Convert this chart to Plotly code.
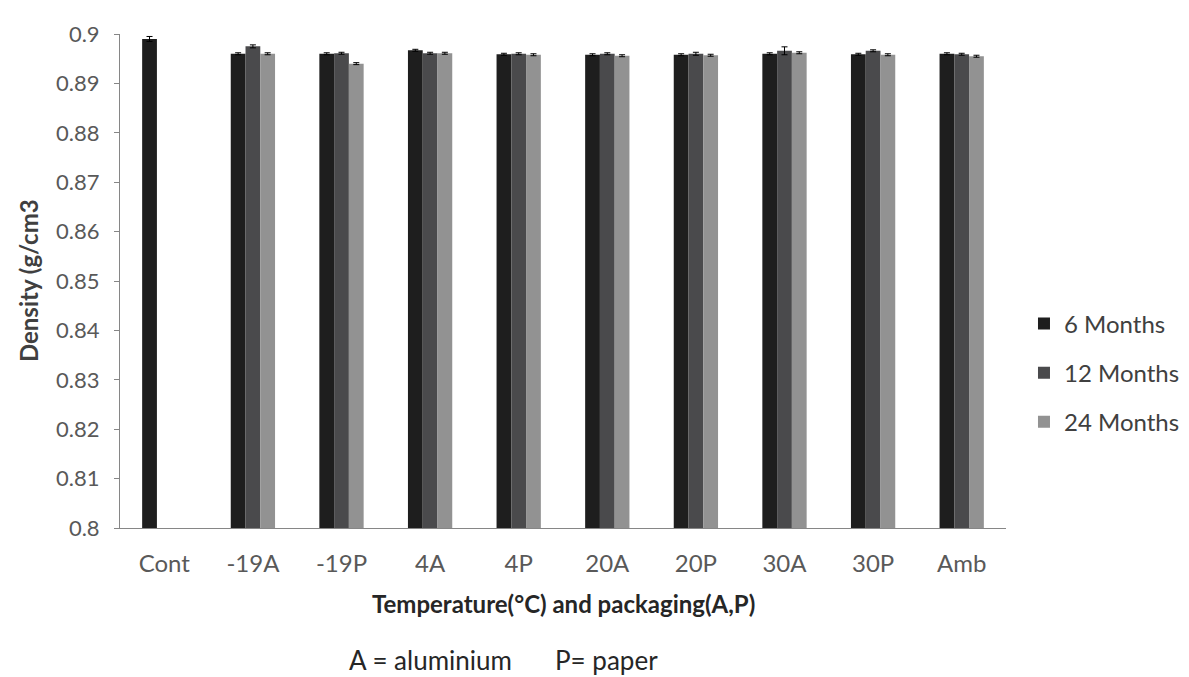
import plotly.graph_objects as go

categories = ["Cont", "-19A", "-19P", "4A", "4P", "20A", "20P", "30A", "30P", "Amb"]
months_6 = [0.8990, 0.8960, 0.8960, 0.8967, 0.8959, 0.8958, 0.8958, 0.8960, 0.8959, 0.8960]
months_12 = [None, 0.8975, 0.8961, 0.8961, 0.8960, 0.8960, 0.8960, 0.8966, 0.8966, 0.8959]
months_24 = [None, 0.8960, 0.8940, 0.8961, 0.8958, 0.8956, 0.8957, 0.8962, 0.8958, 0.8955]
err_6 = [0.0005, 0.0002, 0.0002, 0.0002, 0.0002, 0.0002, 0.0002, 0.0002, 0.0002, 0.0002]
err_12 = [0, 0.0003, 0.0002, 0.0002, 0.0002, 0.0002, 0.0003, 0.0008, 0.0002, 0.0002]
err_24 = [0, 0.0002, 0.0002, 0.0002, 0.0002, 0.0002, 0.0002, 0.0002, 0.0002, 0.0002]

series = [
    ("6 Months", months_6, err_6, "#1e1e1e"),
    ("12 Months", months_12, err_12, "#4a4a4c"),
    ("24 Months", months_24, err_24, "#929292"),
]

fig = go.Figure()
for name, vals, errs, color in series:
    fig.add_trace(go.Bar(
        x=categories, y=vals, name=name, legendgroup=name,
        marker=dict(color=color, line=dict(width=0)),
        error_y=dict(type="data", array=errs, visible=True, color="#000000",
                     thickness=1, width=3),
    ))

font_family = "Lato, 'Open Sans', sans-serif"
# plot area in figure px: x 112..999, y 17..520
L, T, W, H = 112, 17, 887, 503
fig.update_layout(
    width=1189, height=677,
    barmode="group", bargap=0.5, bargroupgap=0,
    plot_bgcolor="white", paper_bgcolor="white",
    margin=dict(l=L, r=1189 - L - W, t=T, b=677 - T - H),
    font=dict(family=font_family, color="#595959", size=22),
    showlegend=True,
    legend=dict(x=1.0203, y=(520 - 362) / H, xanchor="left", yanchor="middle",
                font=dict(size=24, color="#404040"),
                traceorder="grouped", tracegroupgap=15,
                itemwidth=30, bgcolor="rgba(0,0,0,0)"),
    xaxis=dict(showline=True, linecolor="#868686", linewidth=1,
               ticks="", showgrid=False, ticklabelstandoff=14,
               tickfont=dict(size=24, color="#595959")),
    yaxis=dict(range=[0.8, 0.9], dtick=0.01, tickformat="~g",
               showline=True, linecolor="#868686", linewidth=1,
               ticks="outside", ticklen=5, tickcolor="#868686",
               showgrid=False, zeroline=False, ticklabelstandoff=10,
               tickfont=dict(size=22, color="#595959")),
)

fig.add_annotation(text="<b>Density (g/cm3</b>", textangle=-90,
                   xref="paper", yref="paper", x=(20 - L) / W, y=0.5,
                   xanchor="center", yanchor="middle", showarrow=False,
                   font=dict(size=24, color="#404040"))
fig.add_annotation(text="<b>Temperature(°C) and packaging(A,P)</b>",
                   xref="paper", yref="paper", x=0.5, y=(520 - 597) / H,
                   xanchor="center", yanchor="middle", showarrow=False,
                   font=dict(size=24, color="#262626"))
fig.add_annotation(text="A = aluminium",
                   xref="paper", yref="paper", x=(339 - L) / W, y=(520 - 654) / H,
                   xanchor="left", yanchor="middle", showarrow=False,
                   font=dict(size=26, color="#262626"))
fig.add_annotation(text="P= paper",
                   xref="paper", yref="paper", x=(545 - L) / W, y=(520 - 654) / H,
                   xanchor="left", yanchor="middle", showarrow=False,
                   font=dict(size=26, color="#262626"))

fig.write_html("out.html")
